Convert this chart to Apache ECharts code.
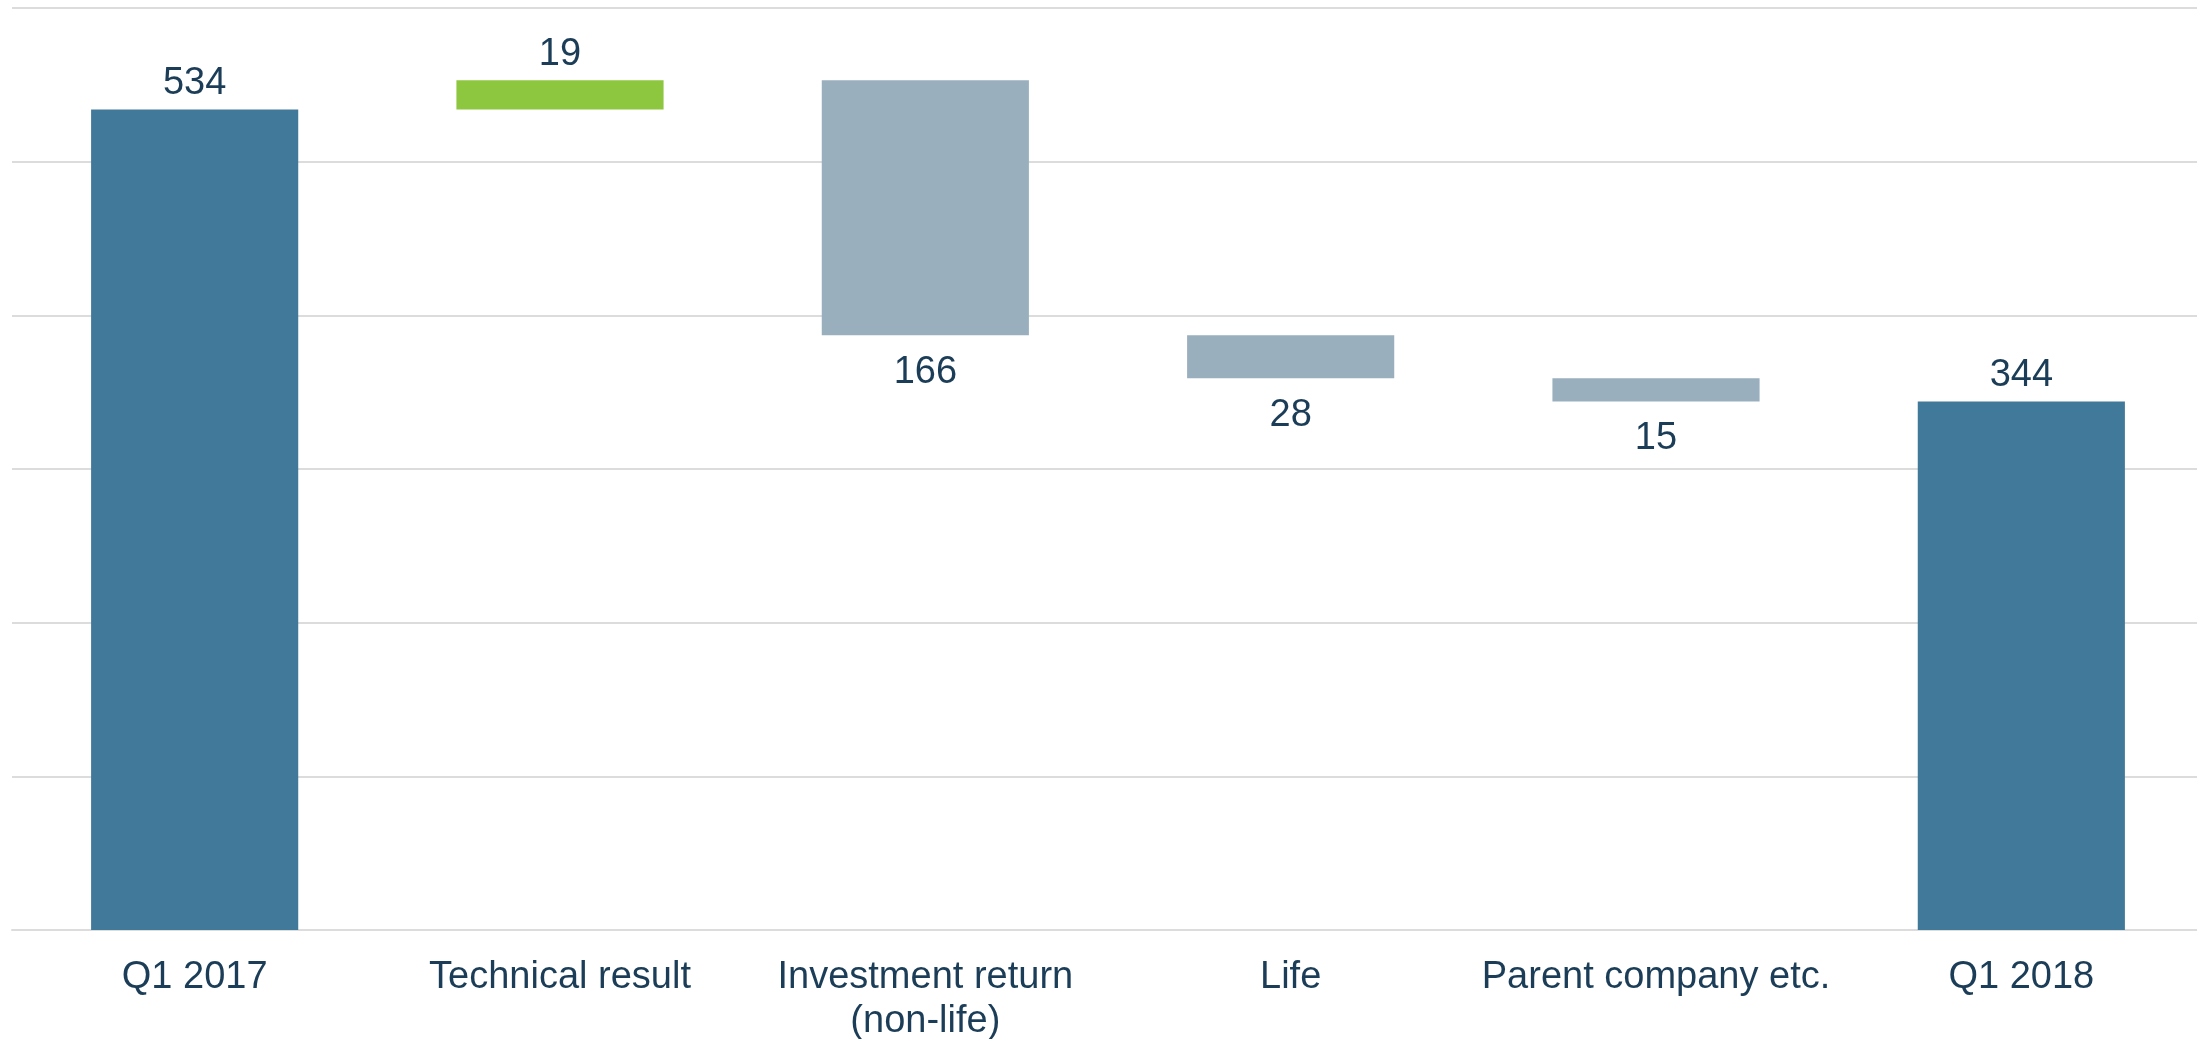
<!DOCTYPE html>
<html>
<head>
<meta charset="utf-8">
<script src="https://cdn.jsdelivr.net/npm/echarts@6/dist/echarts.min.js"></script>
<style>
  html, body { margin: 0; padding: 0; background: #fff; }
  #chart { width: 2197px; height: 1039px; }
</style>
</head>
<body>
<div id="chart"></div>
<script>
// categories and changes (first and last are totals)
const categories = ['Q1 2017', 'Technical result', 'Investment return\n(non-life)', 'Life', 'Parent company etc.', 'Q1 2018'];
const changes = [534, 19, -166, -28, -15, 344];
const isTotal = [true, false, false, false, false, true];
const yTicks = [0, 100, 200, 300, 400, 500, 600];

const colors = {
    total: '#41799A',
    up: '#8DC63F',
    down: '#99AFBD',
    text: '#1B3D57',
    grid: '#DCDCDC'
};

// build waterfall: invisible base + visible part
const baseData = [];
const barData = [];
let running = 0;
changes.forEach((v, i) => {
    let base, color, pos;
    if (isTotal[i]) {
        base = 0;
        running = v;
        color = colors.total;
        pos = 'top';
    } else if (v >= 0) {
        base = running;
        running += v;
        color = colors.up;
        pos = 'top';
    } else {
        running += v;
        base = running;
        color = colors.down;
        pos = 'bottom';
    }
    baseData.push(base);
    barData.push({
        value: Math.abs(v),
        itemStyle: { color },
        label: { position: pos, distance: pos === 'top' ? 7 : 18 }
    });
});

const chart = echarts.init(document.getElementById('chart'));

const option = {
    backgroundColor: '#fff',
    animation: false,
    grid: { left: 12, right: -7, top: 8, bottom: 109, containLabel: false, outerBoundsMode: 'none' },
    xAxis: {
        type: 'category',
        data: categories,
        axisTick: { show: false },
        axisLine: { show: true, lineStyle: { color: colors.grid, width: 2 } },
        axisLabel: {
            color: colors.text,
            fontSize: 38,
            fontFamily: 'Liberation Sans, Arial',
            margin: 26,
            lineHeight: 44,
            interval: 0
        }
    },
    yAxis: {
        type: 'value',
        min: yTicks[0],
        max: yTicks[yTicks.length - 1],
        interval: yTicks[1] - yTicks[0],
        axisLine: { show: false },
        axisTick: { show: false },
        axisLabel: { show: false },
        splitLine: { show: true, lineStyle: { color: colors.grid, width: 2 } }
    },
    series: [
        {
            name: 'base',
            type: 'bar',
            stack: 'wf',
            data: baseData,
            itemStyle: { color: 'transparent' },
            emphasis: { disabled: true },
            barWidth: '56.7%'
        },
        {
            name: 'value',
            type: 'bar',
            stack: 'wf',
            data: barData,
            barWidth: '56.7%',
            emphasis: { disabled: true },
            label: {
                show: true,
                color: colors.text,
                fontSize: 38,
                fontFamily: 'Liberation Sans, Arial'
            }
        }
    ]
};

chart.setOption(option);
window.addEventListener('resize', () => chart.resize());
</script>
</body>
</html>
